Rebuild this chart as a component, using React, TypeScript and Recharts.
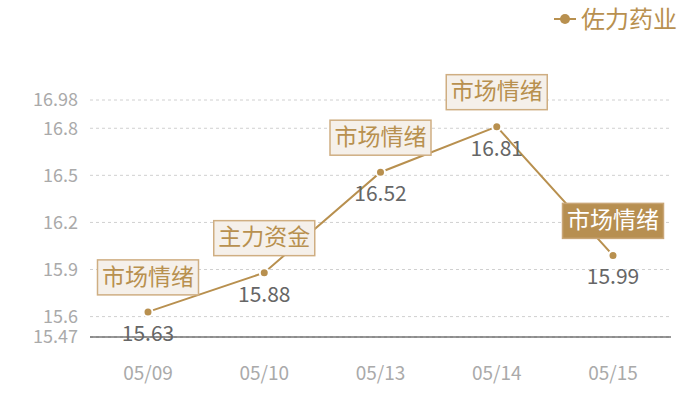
import React from "react";
import { LineChart, Line, XAxis, YAxis, CartesianGrid, LabelList, ReferenceLine } from "recharts";

const DATES = ["05/09", "05/10", "05/13", "05/14", "05/15"];
const PRICES = [15.63, 15.88, 16.52, 16.81, 15.99];
const TAGS = ["市场情绪", "主力资金", "市场情绪", "市场情绪", "市场情绪"];
const HIGHLIGHT = [false, false, false, false, true];
const Y_TICKS = [15.47, 15.6, 15.9, 16.2, 16.5, 16.8, 16.98];
const Y_MIN = 15.47;
const Y_MAX = 16.98;
const SERIES_NAME = "佐力药业";

const GOLD = "#b8904f";
const FONT = '"Noto Sans CJK SC", "Noto Sans", sans-serif';

const data = DATES.map((d, i) => ({ date: d, price: PRICES[i], tag: TAGS[i] }));

// annotation box above each point
const TagLabel = (props: any) => {
    const { x, y, index } = props;
    const hl = HIGHLIGHT[index];
    const w = 101;
    const h = 35;
    const bx = x - w / 2;
    const by = y - 17 - h;
    return (
        <g>
            <rect x={bx} y={by} width={w} height={h} fill={hl ? "#b78f51" : "#f5f0ea"} stroke={hl ? "#c9a677" : "#cfae82"} strokeWidth={1.5} />
            <text x={x} y={by + h / 2 + 1} textAnchor="middle" dominantBaseline="middle" fontSize={23} fontFamily={FONT} fill={hl ? "#ffffff" : GOLD}>
                {TAGS[index]}
            </text>
        </g>
    );
};

const ValueLabel = (props: any) => {
    const { x, y, index } = props;
    return (
        <text x={x} y={y + 29} textAnchor="middle" fontSize={21} fontFamily={FONT} fill="#666666">
            {PRICES[index].toFixed(2)}
        </text>
    );
};

// legend drawn on top of the chart, top right
const LegendBox = () => (
    <svg width={150} height={36} style={{ position: "absolute", left: 552, top: 1 }}>
        <line x1={2} y1={18} x2={24} y2={18} stroke={GOLD} strokeWidth={2} />
        <circle cx={13} cy={18} r={5} fill={GOLD} />
        <text x={29} y={27} fontSize={24} fontFamily={FONT} fill={GOLD}>{SERIES_NAME}</text>
    </svg>
);

export default function App() {
    return (
        <div style={{ position: "absolute", left: 0, top: 0, width: 700, height: 400, background: "#fff" }}>
            <LineChart width={700} height={400} data={data} margin={{ top: 100, right: 29, left: 0, bottom: 0 }}>
                <CartesianGrid vertical={false} stroke="#d0d0d0" strokeDasharray="3 3" />
                <XAxis
                    dataKey="date"
                    height={63}
                    padding={{ left: 58, right: 58 }}
                    axisLine={false}
                    tickLine={false}
                    tickMargin={24}
                    tick={{ fill: "#aaaaaa", fontSize: 19, fontFamily: FONT }}
                />
                <YAxis
                    width={90}
                    domain={[Y_MIN, Y_MAX]}
                    ticks={Y_TICKS}
                    interval={0}
                    axisLine={false}
                    tickLine={false}
                    tickMargin={6}
                    tick={{ fill: "#aaaaaa", fontSize: 18, fontFamily: FONT }}
                />
                <ReferenceLine y={Y_MIN} stroke="#333" strokeWidth={1.2} />
                <Line
                    type="linear"
                    dataKey="price"
                    name={SERIES_NAME}
                    stroke={GOLD}
                    strokeWidth={2}
                    dot={{ r: 4.5, fill: GOLD, stroke: "#fff", strokeWidth: 2 }}
                    activeDot={false}
                    isAnimationActive={false}
                >
                    <LabelList dataKey="price" content={<ValueLabel />} />
                    <LabelList dataKey="tag" content={<TagLabel />} />
                </Line>
            </LineChart>
            <LegendBox />
        </div>
    );
}
